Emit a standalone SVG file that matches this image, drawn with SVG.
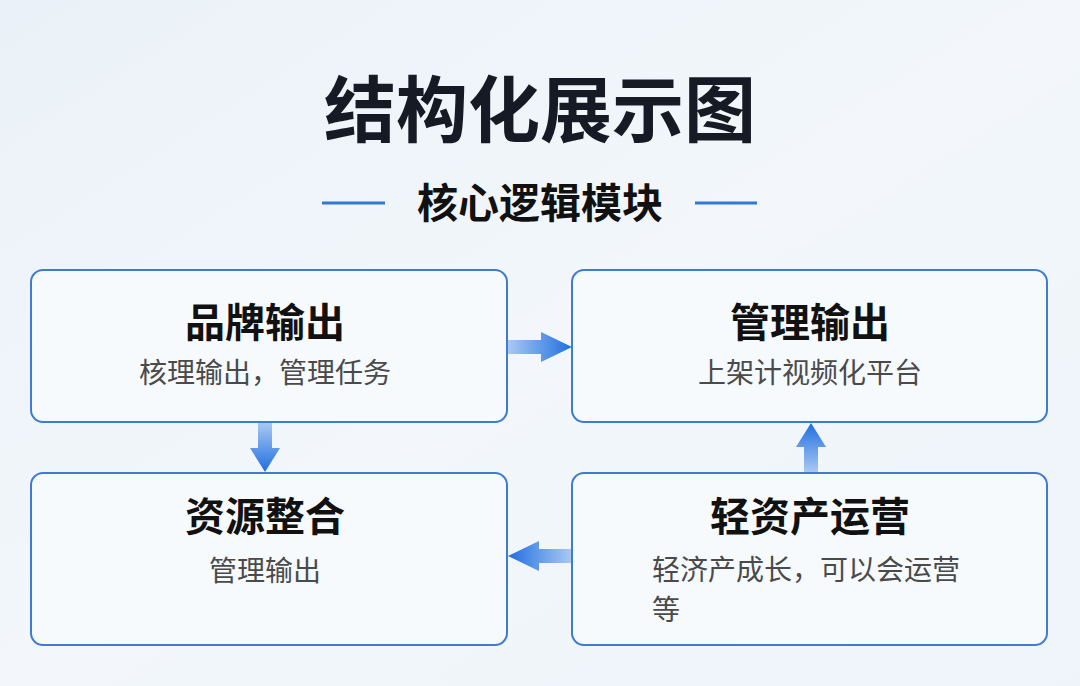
<svg xmlns="http://www.w3.org/2000/svg" width="1080" height="686" viewBox="0 0 1080 686">
<defs>
<linearGradient id="bg" x1="0" y1="0" x2="1" y2="1">
<stop offset="0" stop-color="#eaf1f8"/>
<stop offset="0.5" stop-color="#f3f7fb"/>
<stop offset="1" stop-color="#eef4fa"/>
</linearGradient>
<linearGradient id="gr" x1="0" y1="0" x2="1" y2="0">
<stop offset="0" stop-color="#a9c8f2"/>
<stop offset="1" stop-color="#1f6fe0"/>
</linearGradient>
<linearGradient id="gl" x1="1" y1="0" x2="0" y2="0">
<stop offset="0" stop-color="#a9c8f2"/>
<stop offset="1" stop-color="#1f6fe0"/>
</linearGradient>
<linearGradient id="gd" x1="0" y1="0" x2="0" y2="1">
<stop offset="0" stop-color="#a9c8f2"/>
<stop offset="1" stop-color="#1f6fe0"/>
</linearGradient>
<linearGradient id="gu" x1="0" y1="1" x2="0" y2="0">
<stop offset="0" stop-color="#a9c8f2"/>
<stop offset="1" stop-color="#1f6fe0"/>
</linearGradient>
</defs>
<style>
.box{fill:#f7fafd;fill-opacity:0.85;stroke:#3f7bd0;stroke-width:2}
.t{font-family:"Noto Sans CJK SC","Noto Sans",sans-serif;font-weight:700;font-size:40px;fill:#111;text-anchor:middle}
.s{font-family:"Noto Sans CJK SC","Noto Sans",sans-serif;font-weight:400;font-size:28px;fill:#4a4a4a}
.c{text-anchor:middle}
</style>
<rect width="1080" height="686" fill="url(#bg)"/>
<text x="540" y="136" font-family="'Noto Sans CJK SC',sans-serif" font-weight="700" font-size="72" fill="#151a24" text-anchor="middle">结构化展示图</text>
<line x1="322" y1="203" x2="385" y2="203" stroke="#2f7ad8" stroke-width="3"/>
<line x1="695" y1="203" x2="757" y2="203" stroke="#2f7ad8" stroke-width="3"/>
<text x="540" y="218" font-family="'Noto Sans CJK SC',sans-serif" font-weight="700" font-size="41" fill="#111" text-anchor="middle">核心逻辑模块</text>
<g id="n1">
<rect class="box" x="31" y="270" width="476" height="152" rx="12"/>
<text class="t" x="265" y="337">品牌输出</text>
<text class="s c" x="265" y="383">核理输出，管理任务</text>
</g>
<g id="n2">
<rect class="box" x="572" y="270" width="475" height="152" rx="12"/>
<text class="t" x="810" y="337">管理输出</text>
<text class="s c" x="810" y="383">上架计视频化平台</text>
</g>
<g id="n3">
<rect class="box" x="31" y="473" width="476" height="172" rx="12"/>
<text class="t" x="265" y="531">资源整合</text>
<text class="s c" x="265" y="581">管理输出</text>
</g>
<g id="n4">
<rect class="box" x="572" y="473" width="475" height="172" rx="12"/>
<text class="t" x="810" y="531">轻资产运营</text>
<text class="s" x="652" y="580">轻济产成长，可以会运营</text>
<text class="s" x="652" y="620">等</text>
</g>
<g id="connectors">
<path d="M508 340 H541 V332 L572 347 L541 362 V354 H508 Z" fill="url(#gr)"/>
<path d="M258 423 V448 H250 L265 472 L280 448 H272 V423 Z" fill="url(#gd)"/>
<path d="M804 472 V447 H796 L811 423 L826 447 H818 V472 Z" fill="url(#gu)"/>
<path d="M571 549 H539 V541 L508 556 L539 571 V563 H571 Z" fill="url(#gl)"/>
</g>
</svg>
